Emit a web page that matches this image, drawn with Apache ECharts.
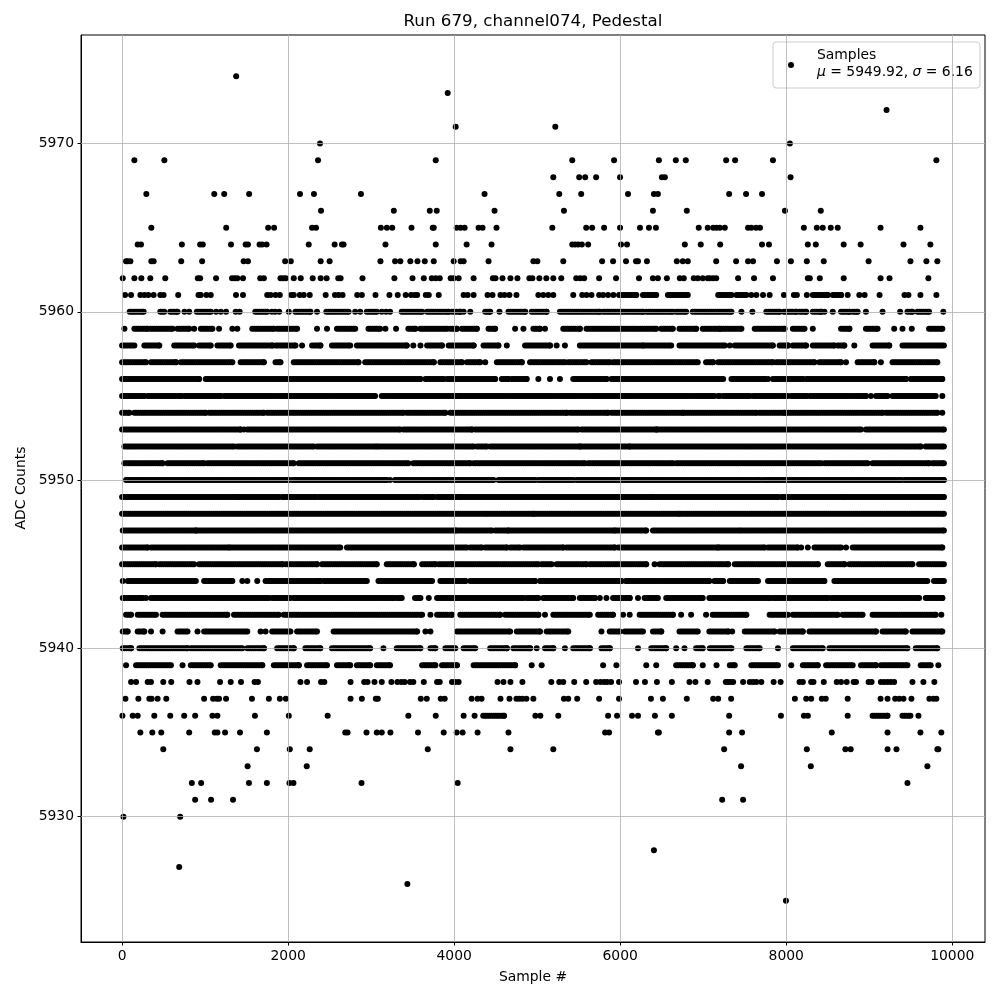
<!DOCTYPE html>
<html>
<head>
<meta charset="utf-8">
<script src="https://cdn.jsdelivr.net/npm/echarts@6/dist/echarts.min.js"></script>
<style>html,body{margin:0;padding:0;background:#fff}#c{width:1000px;height:1000px}</style>
</head>
<body>
<div id="c"></div>
<script>
// ---- Tick labels ----
const xTicks = [0, 2000, 4000, 6000, 8000, 10000];
const yTicks = [5930, 5940, 5950, 5960, 5970];
const titleText = 'Run 679, channel074, Pedestal';
const meanVal = 5949.92, sigmaVal = 6.16;

// ---- Samples, per ADC level ----
// a number = single sample #, a pair = a solid run of samples [from, to]
const L5974 = [1374];
const L5973 = [3922];
const L5972 = [9208];
const L5971 = [4018, 5218];
const L5970 = [2384, 8044];
const L5969 = [148, 509, 2360, 3778, 5422, 5926, 6466, 6670, 6790, 7276, 7384, 7840, 9808];
const L5968 = [5194, 5506, 5578, 5710, 5998, 6502, 6538, 8052];
const L5967 = [292, 1110, 1230, 1530, 2143, 2311, 2877, 4366, 5266, 5530, 6094, 6406, 6454, 7312, 7516, 7708];
const L5966 = [2396, 3273, 3706, 3790, 4486, 5322, 6394, 6802, 7984, 8416];
const L5965 = [352, 1254, 1759, 1831, 2288, 2336, 3117, 3189, 3254, 3486, 3742, 3754, 4030, 4078, 4126, 4294, 4342, 4510, 5182, 5590, 5662, 5806, 5998, 6238, 6346, 6430, 6946, 7054, 7120, 7160, 7200, 7260, 7540, 7580, 7636, 7684, 8212, 8368, 8440, 8536, 8620, 9136, 9616];
const L5964 = [188, 228, 720, 940, 972, 1312, 1488, 1516, 1656, 1688, 1740, 2248, 2560, 2648, 2668, 3172, 3778, 4150, 4450, 5422, 5458, 5494, 5538, 5614, 6010, 6082, 6778, 6970, 7204, 7708, 7792, 8260, 8356, 8692, 8896, 9412, 9736];
const L5963 = [48, 68, 100, 352, 380, 712, 964, 1464, 1516, 1964, 2032, 2392, 2500, 3112, 3288, 3352, 3472, 3558, 3646, 3754, 3994, 4078, 4114, 4414, 4954, 5002, 5314, 5782, 5914, 6070, 6190, 6214, 6322, 6682, 6754, 6814, 7156, 7396, 7540, 7600, 7888, 8056, 8248, 8452, 8992, 9496, 9688, 9820];
const L5962 = [8, 148, 232, 340, 520, 912, 940, 1132, 1324, 1356, 1388, 1456, 1664, 1708, 1908, 1940, 1972, 2068, 2152, 2296, 2392, 2464, 2604, 2632, 2896, 3280, 3498, 3634, 3730, 3778, 3826, 3958, 3994, 4054, 4234, 4466, 4498, 4582, 4678, 4762, 4906, 4942, 5026, 5110, 5194, 5290, 5470, 5518, 5566, 5746, 5950, 6226, 6394, 6454, 6562, 6718, 6766, 6886, 6934, 6994, 7054, 7080, 7120, 7156, 7420, 7612, 7840, 8260, 8284, 8404, 8692, 9136, 9244, 9712];
const L5961 = [36, 108, 220, 268, 316, 380, 460, 500, 676, 920, 948, 1016, 1068, 1372, 1456, 1748, 1788, 1848, 1900, 2036, 2068, 2140, 2188, 2260, 2452, 2564, 2608, 2656, 2832, 2888, 3052, 3220, 3320, 3416, 3480, 3522, 3554, 3658, 3694, 3814, 4114, 4162, 4234, 4402, 4462, 4558, 4606, 4666, 4750, 5014, 5074, 5134, 5194, 5434, 5542, 5594, 5654, 5746, 5794, 5854, 5918, [5986, 6194], [6274, 6434], [6574, 6814], [7180, 7340], [7400, 7520], 7580, 7640, 7720, 7800, 7972, 8092, 8128, 8248, [8320, 8500], [8560, 8660], 8740, 8880, 8944, 9124, 9424, 9472, 9616, 9808];
const L5960 = [[92, 260], [460, 508], [580, 668], 752, 808, [900, 1068], 1132, 1188, 1252, 1368, 1416, [1604, 1748], 1804, 1844, 1892, 2008, [2088, 2268], 2348, [2460, 2728], 2808, 2868, [2948, 3068], 3128, 3180, 3228, [3368, 3614], [3674, 3934], [3974, 4074], 4114, 4194, [4374, 4434], 4546, [4654, 4854], [4934, 5114], [5274, 5754], [5794, 6274], [6314, 6634], [6674, 6794], [6874, 7340], 7460, 7592, [7760, 7920], [7968, 8120], [8160, 8240], [8320, 8420], 8460, 8560, [8660, 8760], [8800, 8860], 8960, 9160, 9372, [9460, 9520], [9580, 9720], 9892];
const L5959 = [28, [148, 308], [340, 608], [668, 808], 868, [948, 1088], 1168, 1328, 1388, [1568, 1828], [1868, 2108], 2348, 2468, [2588, 2808], [2968, 3108], 3172, 3300, [3448, 3534], [3594, 3914], [3954, 4034], [4094, 4274], [4414, 4494], 4734, 4834, [4954, 5034], 5094, [5314, 5514], [5594, 6434], [6494, 6634], [6714, 6914], [6994, 7200], [7220, 7460], [7620, 7980], [8080, 8220], 8320, [8660, 8760], [8960, 9100], 9300, 9400, 9512, [9720, 9880]];
const L5958 = [[0, 148], [268, 448], [628, 868], [928, 1068], [1148, 1308], [1408, 1808], [1848, 2088], 2168, [2288, 2388], [2528, 2748], [2828, 3428], 3508, 3594, [3674, 3854], [3934, 4234], [4354, 4534], 4634, [4854, 5154], 5234, 5334, [5514, 6274], [6294, 6614], [6714, 7260], 7320, [7380, 7840], [7920, 8020], [8080, 8240], [8320, 8580], [8620, 8700], 8820, [9040, 9240], [9400, 9899]];
const L5957 = [[0, 288], [348, 648], [708, 1328], [1428, 1708], [1848, 1908], [2068, 2848], [2928, 3754], [3834, 4094], [4154, 4314], 4374, [4514, 4814], [4914, 5334], [5374, 5594], [5654, 5874], [5914, 6934], [7034, 7120], [7180, 7840], [7880, 8340], [8400, 8660], 8720, [8860, 9060], 9140, [9280, 9820]];
const L5956 = [[0, 928], [1008, 3594], [3654, 3874], [3914, 4494], [4574, 4654], [4694, 4874], 5014, 5154, 5274, [5434, 5834], [5894, 7240], [7340, 7740], 7780, [7840, 8200], [8240, 9440], [9500, 9880]];
const L5955 = [[0, 268], [308, 708], [748, 1188], [1228, 3048], [3128, 4054], [4074, 5094], [5114, 7134], [7180, 7200], [7240, 7560], [7600, 8020], [8060, 8240], [8280, 8960], 9020, [9080, 9220], [9280, 9800], 9880];
const L5954 = [[0, 88], [148, 1008], [1048, 1708], [1748, 3388], [3428, 3894], [3954, 5354], [5394, 5854], [5894, 6754], [6774, 7640], [7672, 7980], [8000, 9160], [9200, 9820], 9880];
const L5953 = [[0, 1428], 1468, [1508, 3348], [3388, 4214], [4254, 5494], [5534, 6434], [6454, 8900], [8960, 9899]];
const L5952 = [[28, 1348], [1388, 2308], [2348, 3068], [3088, 4234], [4274, 4394], [4434, 5514], [5534, 6114], [6134, 9620], [9680, 9899]];
const L5951 = [[28, 488], [548, 988], [1028, 2068], [2128, 3448], [3508, 4194], [4234, 5574], [5614, 6634], [6674, 8420], [8460, 8980], [9040, 9720], [9760, 9899]];
const L5950 = [[48, 2008], [2048, 3188], 3228, [3288, 4474], [4534, 4974], [5014, 5434], [5474, 7680], [7720, 9380], [9420, 9899]];
const L5949 = [[0, 1408], [1428, 1888], [1928, 2328], [2368, 3574], [3614, 3754], [3794, 4074], [4094, 6394], [6414, 7900], [7940, 8700], [8720, 9899]];
const L5948 = [[0, 4374], [4394, 4954], [4974, 6714], [6734, 9899]];
const L5947 = [[8, 888], [908, 4014], [4034, 4454], [4494, 4654], [4674, 5934], [5954, 6314], [6394, 7440], [7460, 9899]];
const L5946 = [[0, 308], [348, 1288], [1308, 2628], [2708, 4154], [4194, 4334], [4374, 4634], [4674, 4794], [4834, 5314], [5354, 5934], [5974, 7180], [7200, 7740], [7780, 8140], 8180, 8260, [8340, 8660], 8720, [8800, 9880]];
const L5945 = [[0, 408], [448, 868], [928, 1928], [1968, 2348], [2408, 3068], [3188, 3514], [3614, 3774], [3814, 3974], [3994, 5014], [5054, 5174], [5234, 5594], [5634, 6314], 6414, [6474, 7300], [7380, 8380], [8500, 8700], [8760, 9520], [9600, 9899]];
const L5944 = [8, [68, 888], [988, 1328], 1448, 1508, 1628, [1728, 2388], [2428, 2948], [3088, 3734], [3834, 4134], [4194, 4974], [5034, 6014], [6066, 7074], [7134, 7240], [7320, 7660], [7780, 8460], [8580, 9700], [9780, 9899]];
const L5943 = [[8, 248], 288, [348, 1768], [1808, 2028], [2068, 3268], [3308, 3368], [3528, 3594], 3694, [3794, 4834], [4874, 5014], [5074, 5434], [5514, 5694], 5754, 5834, [5914, 6114], 6214, [6294, 6454], [6554, 6994], [7074, 7800], [7840, 8500], [8540, 9600], [9680, 9880]];
const L5942 = [[48, 108], [188, 408], [488, 1268], [1348, 1888], [1948, 3614], 3714, [3794, 3974], [4074, 4554], [4614, 5014], 5094, [5194, 5634], [5734, 5914], 6034, 6114, [6234, 6634], 6734, 6854, 7034, [7114, 7520], [7800, 8020], [8080, 8620], [8680, 8920], [9040, 9800], 9868];
const L5941 = [[8, 68], [188, 268], 348, 488, [668, 788], 908, [988, 1508], 1668, 1728, [1808, 2028], [2108, 2348], [2548, 3554], 3654, 3714, [4034, 4674], [4754, 5034], [5114, 5374], 5774, [5874, 5994], [6054, 6274], [6394, 6494], [6714, 6934], [7074, 7300], 7348, [7500, 7860], [7920, 8200], [8280, 9080], [9160, 9440], [9520, 9880]];
const L5940 = [[8, 108], [208, 788], [828, 1448], [1508, 1708], [1868, 2068], [2208, 2388], [2528, 2988], 3148, [3308, 3594], [3714, 3774], [3894, 4014], [4114, 4254], [4434, 4634], [4714, 4914], 4994, [5094, 5194], 5334, [5434, 5634], [5774, 5874], 6214, [6374, 6554], 6674, 6774, [6914, 6994], [7080, 7340], [7520, 7680], 7900, [8080, 8440], [8520, 9460], [9560, 9820]];
const L5939 = [48, [168, 588], 728, [828, 1068], [1188, 1688], [1828, 2128], [2228, 2468], [2588, 2748], [2828, 2988], [3068, 3228], [3614, 3774], [3854, 4034], [4234, 4734], 4934, 5054, 5794, 5954, 6314, 6434, [6674, 6874], 6994, 7160, [7320, 7380], [7580, 7900], 8060, [8200, 8380], [8480, 8800], [8900, 9080], [9140, 9460], [9620, 9740], 9832];
const L5938 = [108, 168, 308, 348, 496, 592, 812, 908, 1180, 1308, 1432, 1596, 1636, 2148, 2228, 2396, 2436, 2752, 2916, 2956, 3040, 3128, 3244, 3316, 3364, 3404, 3468, 3508, 3634, 3794, 3826, 3974, 4014, 4054, 4522, 4594, 4678, 4822, 5170, 5266, 5314, 5446, 5590, 5710, 5762, 5806, 5842, 5890, 5986, 6190, 6298, 6442, 6622, 6834, 6906, 7054, 7272, 7300, 7328, 7360, 7480, 7560, 7600, 7640, 7700, 7848, 7932, 8160, 8200, 8300, 8328, 8452, 8608, 8660, 8728, 8812, 8840, 8992, 9028, 9140, 9180, 9220, 9260, 9300, 9520, 9652, 9784];
const L5937 = [40, 196, 328, 356, 428, 532, 988, 1096, 1140, 1168, 1252, 1564, 1768, 1900, 1972, 2752, 2888, 3056, 3080, 3598, 3670, 3838, 3886, 4210, 4282, 4330, 4558, 4666, 4750, 4786, 4822, 4870, 4954, 5322, 5374, 5482, 5746, 5986, 6370, 6514, 6802, 7120, 7180, 7336, 8104, 8240, 8300, 8428, 8476, 8740, 9136, 9220, 9312, 9360, 9412, 9508, 9724, 9772, 9808];
const L5936 = [4, 128, 188, 388, 580, 748, 880, 1088, 1148, 1600, 2008, 2476, 3448, 3778, 4114, 4246, [4350, 4600], 4978, 5038, 5254, 5854, 5962, 6142, 6214, 6418, 6622, 7312, 7936, 8212, 8260, 8740, [9040, 9220], [9400, 9496], 9592];
const L5935 = [220, 364, 472, 808, 1116, 1148, 1240, 1420, 1744, 2688, 2716, 2944, 3068, 3128, 3232, 3564, 3874, 4030, 4102, 4282, 4654, 5818, 5866, 6454, 6466, 7312, 7468, 8548, 9220, 9616, 9868];
const L5934 = [496, 1624, 2020, 2260, 3682, 4678, 5194, 7252, 8248, 8712, 8776, 9220, 9328, 9820, 9832];
const L5933 = [1512, 2224, 7456, 8296, 9700];
const L5932 = [840, 952, 1528, 1744, 2016, 2064, 2884, 4042, 9460];
const L5931 = [880, 1072, 1336, 7228, 7480];
const L5930 = [16, 700];
const L5928 = [6406];
const L5927 = [688];
const L5926 = [3436];
const L5925 = [7996];

const levelRows = [
  [5974, L5974], [5973, L5973], [5972, L5972], [5971, L5971], [5970, L5970],
  [5969, L5969], [5968, L5968], [5967, L5967], [5966, L5966], [5965, L5965],
  [5964, L5964], [5963, L5963], [5962, L5962], [5961, L5961], [5960, L5960],
  [5959, L5959], [5958, L5958], [5957, L5957], [5956, L5956], [5955, L5955],
  [5954, L5954], [5953, L5953], [5952, L5952], [5951, L5951], [5950, L5950],
  [5949, L5949], [5948, L5948], [5947, L5947], [5946, L5946], [5945, L5945],
  [5944, L5944], [5943, L5943], [5942, L5942], [5941, L5941], [5940, L5940],
  [5939, L5939], [5938, L5938], [5937, L5937], [5936, L5936], [5935, L5935],
  [5934, L5934], [5933, L5933], [5932, L5932], [5931, L5931], [5930, L5930],
  [5928, L5928], [5927, L5927], [5926, L5926], [5925, L5925]
];

const points = [];
for (const [y, arr] of levelRows) {
  for (const e of arr) {
    if (Array.isArray(e)) {
      const b = Math.min(e[1], 9899);
      for (let s = e[0]; s <= b; s += 25) points.push([s, y]);
      points.push([b, y]);
    } else {
      points.push([Math.min(e, 9899), y]);
    }
  }
}

const gridLines = xTicks.map(v => ({ xAxis: v })).concat(yTicks.map(v => ({ yAxis: v })));
const FONT = 'DejaVu Sans';
const plain = v => String(v);
const chart = echarts.init(document.getElementById('c'), null, { renderer: 'canvas' });
chart.setOption({
  animation: false,
  backgroundColor: '#ffffff',
  textStyle: { fontFamily: FONT },
  grid: {
    left: 81, right: 15, top: 35, bottom: 58,
    containLabel: false, outerBoundsMode: 'none',
    show: true, borderColor: '#000', borderWidth: 1, backgroundColor: 'transparent'
  },
  xAxis: {
    type: 'value', min: -495, max: 10394,
    axisLine: { show: true, onZero: false, lineStyle: { color: '#000', width: 1 } },
    axisTick: { show: true, length: 3.5, customValues: xTicks, lineStyle: { color: '#000' } },
    axisLabel: { customValues: xTicks, formatter: plain, color: '#000', fontSize: 13.9, fontFamily: FONT, margin: 7 },
    splitLine: { show: false }
  },
  yAxis: {
    type: 'value', min: 5922.55, max: 5976.45,
    axisLine: { show: true, onZero: false, lineStyle: { color: '#000', width: 1 } },
    axisTick: { show: true, length: 3.5, customValues: yTicks, lineStyle: { color: '#000' } },
    axisLabel: { customValues: yTicks, formatter: plain, color: '#000', fontSize: 13.9, fontFamily: FONT, margin: 7 },
    splitLine: { show: false }
  },
  series: [
    {
      type: 'scatter', data: [], z: 1, silent: true,
      markLine: {
        silent: true, symbol: 'none', animation: false,
        label: { show: false },
        lineStyle: { color: '#b0b0b0', width: 0.8, type: 'solid' },
        data: gridLines
      }
    },
    {
      name: 'Samples', type: 'scatter', z: 2, data: points,
      symbol: 'circle', symbolSize: 6, progressive: 0,
      itemStyle: { color: '#000', opacity: 1 },
      emphasis: { disabled: true }
    }
  ],
  graphic: [
    { type: 'text', x: 533, y: 22, style: { text: titleText, font: '16.7px "DejaVu Sans"', fill: '#000', textAlign: 'center', textVerticalAlign: 'middle' } },
    { type: 'text', x: 533, y: 977, style: { text: 'Sample #', font: '13.9px "DejaVu Sans"', fill: '#000', textAlign: 'center', textVerticalAlign: 'middle' } },
    { type: 'text', x: 21, y: 488, rotation: Math.PI / 2, style: { text: 'ADC Counts', font: '13.9px "DejaVu Sans"', fill: '#000', textAlign: 'center', textVerticalAlign: 'middle' } },
    { type: 'rect', z: 10, shape: { x: 773, y: 42, width: 207, height: 46, r: 3 }, style: { fill: 'rgba(255,255,255,0.8)', stroke: '#cccccc', lineWidth: 1 } },
    { type: 'circle', z: 11, shape: { cx: 791, cy: 65, r: 3 }, style: { fill: '#000' } },
    { type: 'text', z: 11, x: 817, y: 55, style: { text: 'Samples', font: '13.9px "DejaVu Sans"', fill: '#000', textVerticalAlign: 'middle' } },
    { type: 'text', z: 11, x: 817, y: 72, style: {
        text: '{i|μ} = ' + meanVal.toFixed(2) + ', {i|σ} = ' + sigmaVal.toFixed(2),
        font: '13.9px "DejaVu Sans"', fill: '#000', textVerticalAlign: 'middle',
        rich: { i: { fontStyle: 'italic', fontFamily: FONT, fontSize: 13.9, fill: '#000' } }
      } }
  ]
});
</script>
</body>
</html>
